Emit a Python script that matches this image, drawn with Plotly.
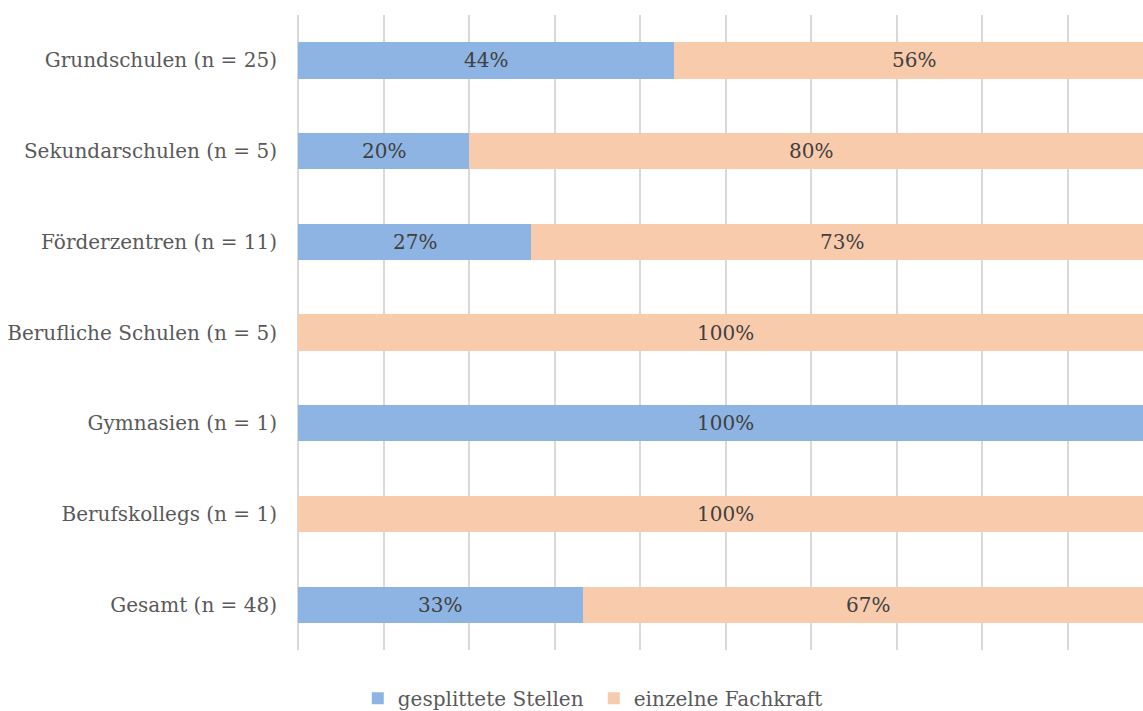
import plotly.graph_objects as go

categories = ["Grundschulen (n = 25)", "Sekundarschulen (n = 5)", "Förderzentren (n = 11)",
              "Berufliche Schulen (n = 5)", "Gymnasien (n = 1)", "Berufskollegs (n = 1)",
              "Gesamt (n = 48)"]
split_vals = [44, 20, 27.3, 0, 100, 0, 33.3]
single_vals = [56, 80, 72.7, 100, 0, 100, 66.7]
series_names = ["gesplittete Stellen", "einzelne Fachkraft"]
colors = ["#8EB4E3", "#F8CBAD"]

FONT = "DejaVu Serif"

fig = go.Figure()
fig.add_trace(go.Bar(y=categories, x=split_vals, orientation="h", name=series_names[0],
                     marker=dict(color=colors[0], line=dict(width=0))))
fig.add_trace(go.Bar(y=categories, x=single_vals, orientation="h", name=series_names[1],
                     marker=dict(color=colors[1], line=dict(width=0))))

annotations = []
for cat, a, b in zip(categories, split_vals, single_vals):
    if a > 0:
        annotations.append(dict(x=a / 2, y=cat, xref="x", yref="y", text=f"{round(a)}%",
                                showarrow=False, font=dict(family=FONT, size=20, color="#404040")))
    if b > 0:
        annotations.append(dict(x=a + b / 2, y=cat, xref="x", yref="y", text=f"{round(b)}%",
                                showarrow=False, font=dict(family=FONT, size=20, color="#404040")))

fig.update_layout(
    barmode="stack",
    bargap=0.6,
    width=1143, height=711,
    margin=dict(l=298, r=0, t=15, b=61),
    paper_bgcolor="white", plot_bgcolor="white",
    font=dict(family=FONT, size=20, color="#595959"),
    annotations=annotations,
    legend=dict(orientation="h", xref="container", x=0.5195, xanchor="center",
                yref="container", y=0.018, yanchor="middle",
                font=dict(family=FONT, size=20, color="#595959"),
                entrywidth=191, traceorder="normal"),
    xaxis=dict(range=[0, 98.83], dtick=10, showticklabels=False, showgrid=True,
               gridcolor="#D9D9D9", gridwidth=2, zeroline=True, zerolinecolor="#D9D9D9",
               zerolinewidth=2, showline=False, fixedrange=True),
    yaxis=dict(autorange="reversed", showgrid=False, ticks="", ticklabelstandoff=20,
               tickfont=dict(family=FONT, size=20, color="#595959"), showline=False),
)

fig.write_html("out.html")
